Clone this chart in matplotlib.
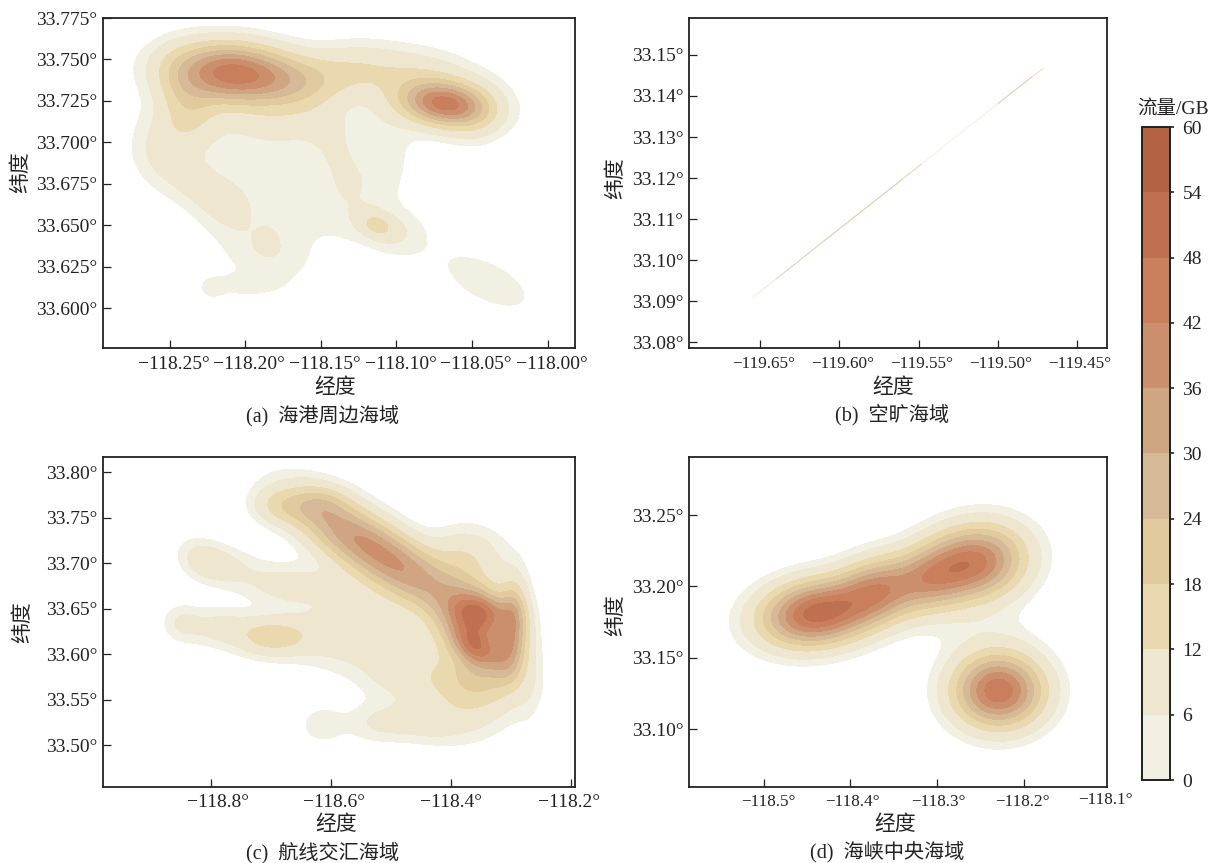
import numpy as np
import matplotlib
matplotlib.use("Agg")
import matplotlib.pyplot as plt
from matplotlib.colors import ListedColormap, BoundaryNorm
from matplotlib.cm import ScalarMappable
from matplotlib.transforms import Affine2D

plt.rcParams['font.family'] = ['Liberation Serif', 'Noto Sans CJK SC']
plt.rcParams['axes.unicode_minus'] = True
TEXT = '#222222'

flow_levels = [0, 6, 12, 18, 24, 30, 36, 42, 48, 54, 60]
band_colors = ['#F1F0E2', '#EEE6CF', '#EAD8AE', '#E1CA9E', '#D6B996',
               '#CFA681', '#CC8F6D', '#C97F5C', '#BF7050', '#B36244']
OUTER = 3.0

# hotspots: lon, lat, spread lon, spread lat, tilt, flow
a_spots = [
    (-118.208, 33.743, .028, .012, -.15, 30),
    (-118.212, 33.739, .027, .0125, 0, 15),
    (-118.165, 33.735, .022, .011, 0, 13),
    (-118.236, 33.718, .012, .013, 0, 9),
    (-118.245, 33.735, .010, .015, 0, 3),
    (-118.125, 33.745, .022, .011, 0, 9),
    (-118.085, 33.745, .020, .010, 0, 3),
    (-118.068, 33.723, .018, .0085, -.2, 32),
    (-118.072, 33.727, .028, .014, -.2, 13),
    (-118.048, 33.716, .012, .012, 0, 4),
    (-118.140, 33.695, .012, .015, -.4, 4.5),
    (-118.170, 33.712, .030, .010, 0, 6),
    (-118.255, 33.700, .014, .016, 0, 5.5),
    (-118.220, 33.695, .030, .020, 0, 3),
    (-118.230, 33.672, .020, .014, -.6, 5.5),
    (-118.172, 33.688, .016, .012, 0, 1.5),
    (-118.115, 33.700, .012, .014, 0, 1.5),
    (-118.185, 33.665, .028, .020, 0, 3.4),
    (-118.140, 33.662, .024, .018, 0, 2.6),
    (-118.103, 33.690, .012, .018, 0, 2.8),
    (-118.175, 33.630, .014, .012, 0, 4),
    (-118.200, 33.635, .012, .012, 0, 3),
    (-118.215, 33.655, .012, .012, 0, 2),
    (-118.200, 33.614, .016, .005, 0, 4.2),
    (-118.222, 33.612, .006, .005, 0, 3.5),
    (-118.185, 33.641, .005, .006, 0, 2.5),
    (-118.113, 33.650, .008, .0055, -.3, 9),
    (-118.110, 33.648, .020, .012, -.3, 3.5),
    (-118.095, 33.645, .012, .010, 0, 2.5),
    (-118.125, 33.675, .015, .012, 0, 2),
    (-118.040, 33.616, .024, .014, -.6, 5),
]
c_spots = [
    (-118.345, 33.647, .033, .014, -.1, 17),
    (-118.358, 33.607, .026, .015, -.5, 17),
    (-118.360, 33.628, .040, .035, -.2, 33),
    (-118.295, 33.640, .016, .028, 0, 20),
    (-118.305, 33.600, .018, .022, 0, 16),
    (-118.360, 33.570, .050, .018, 0, 8),
    (-118.600, 33.742, .060, .031, -.6, 17),
    (-118.540, 33.722, .060, .031, -.6, 16),
    (-118.480, 33.695, .060, .031, -.6, 16),
    (-118.430, 33.670, .060, .031, -.6, 12),
    (-118.373, 33.710, .042, .022, 0, 9),
    (-118.300, 33.687, .025, .025, 0, 1.5),
    (-118.690, 33.762, .030, .014, -.1, 9),
    (-118.620, 33.765, .035, .014, 0, 8),
    (-118.615, 33.522, .025, .014, 0, 5),
    (-118.520, 33.524, .040, .015, 0, 6),
    (-118.440, 33.525, .040, .015, 0, 6),
    (-118.355, 33.535, .050, .025, .3, 5.5),
    (-118.400, 33.560, .050, .025, 0, 5),
    (-118.500, 33.585, .035, .025, 0, 6),
    (-118.450, 33.590, .030, .030, 0, 5),
    (-118.790, 33.698, .035, .016, -.3, 8),
    (-118.820, 33.705, .025, .016, -.2, 4),
    (-118.720, 33.685, .040, .020, -.4, 3),
    (-118.700, 33.619, .042, .015, 0, 14),
    (-118.850, 33.635, .022, .014, 0, 5),
    (-118.790, 33.630, .040, .015, 0, 7),
    (-118.620, 33.620, .050, .022, 0, 5),
    (-118.655, 33.676, .050, .016, 0, 7),
    (-118.550, 33.630, .050, .035, 0, 8),
    (-118.270, 33.590, .018, .045, 0, 4),
]
d_spots = [
    (-118.440, 33.181, .042, .0155, .15, 50),
    (-118.370, 33.197, .030, .0155, .15, 32),
    (-118.310, 33.205, .030, .0155, .15, 26),
    (-118.255, 33.217, .038, .0175, .1, 42),
    (-118.229, 33.127, .035, .0175, 0, 46.5),
    (-118.250, 33.170, .045, .014, 0, 2.5),
]
b_track_lon = [-119.654, -119.640, -119.610, -119.560, -119.548, -119.500, -119.478, -119.471]
b_track_lat = [33.0911, 33.0954, 33.1046, 33.1198, 33.1235, 33.1381, 33.1448, 33.1468]
b_track_col = ['#F3EBD8', '#E8D2AE', '#E6C9A0', '#EAD8AE', '#F7F0E3', '#E6CDA6', '#EFE0C6', '#F7F0E3']

W, H = 1218, 863
panels = [
    dict(box=(103, 575, 18, 348), xlim=(-118.294, -117.982), ylim=(33.576, 33.775),
         xt=[-118.25, -118.20, -118.15, -118.10, -118.05, -118.00],
         xl=['−118.25°', '−118.20°', '−118.15°', '−118.10°', '−118.05°', '−118.00°'],
         yt=[33.60, 33.625, 33.65, 33.675, 33.70, 33.725, 33.75, 33.775],
         yl=['33.600°', '33.625°', '33.650°', '33.675°', '33.700°', '33.725°', '33.750°', '33.775°'],
         fs=14, dx=[4, 4, 4, 4, 4, 4], pad=6, spots=a_spots, xlab=(335, 388), ylab=(21, 172), cap=(323, 416, '(a)  海港周边海域')),
    dict(box=(689, 1107, 18, 348), xlim=(-119.695, -119.431), ylim=(33.0786, 33.159),
         xt=[-119.65, -119.60, -119.55, -119.50, -119.45],
         xl=['−119.65°', '−119.60°', '−119.55°', '−119.50°', '−119.45°'],
         yt=[33.08, 33.09, 33.10, 33.11, 33.12, 33.13, 33.14, 33.15],
         yl=['33.08°', '33.09°', '33.10°', '33.11°', '33.12°', '33.13°', '33.14°', '33.15°'],
         fs=12.3, dx=[3, 3, 3, 3, 3], pad=6, spots=None, xlab=(893, 388), ylab=(616, 178), cap=(892, 416, '(b)  空旷海域')),
    dict(box=(103, 575, 457, 787), xlim=(-118.98, -118.193), ylim=(33.454, 33.8165),
         xt=[-118.8, -118.6, -118.4, -118.2],
         xl=['−118.8°', '−118.6°', '−118.4°', '−118.2°'],
         yt=[33.50, 33.55, 33.60, 33.65, 33.70, 33.75, 33.80],
         yl=['33.50°', '33.55°', '33.60°', '33.65°', '33.70°', '33.75°', '33.80°'],
         fs=14, dx=[7, 3, 0, -2], pad=5, spots=c_spots, xlab=(336, 825), ylab=(23, 622), cap=(323, 853, '(c)  航线交汇海域')),
    dict(box=(689, 1107, 457, 787), xlim=(-118.586, -118.104), ylim=(33.0596, 33.2906),
         xt=[-118.5, -118.4, -118.3, -118.2],
         xl=['−118.5°', '−118.4°', '−118.3°', '−118.2°'],
         yt=[33.10, 33.15, 33.20, 33.25],
         yl=['33.10°', '33.15°', '33.20°', '33.25°'],
         fs=12.3, dx=[5, 2, 1, -1], pad=5, spots=d_spots, xlab=(895, 825), ylab=(616, 615), cap=(887, 853, '(d)  海峡中央海域')),
]

def flow_field(spots, X, Y):
    Z = np.zeros_like(X)
    for lon, lat, sx, sy, r, h in spots:
        u, v = (X - lon) / sx, (Y - lat) / sy
        Z += h * np.exp(-0.5 * (u * u + v * v - 2 * r * u * v) / (1 - r * r))
    return Z

fig = plt.figure(figsize=(W / 100, H / 100), dpi=100)
def px_rect(l, r, t, b):
    return [l / W, 1 - b / H, (r - l) / W, (b - t) / H]
def ftext(x, y, s, **kw):
    fig.text(x / W, 1 - y / H, s, ha='center', va='center', color=TEXT, **kw)

for p in panels:
    ax = fig.add_axes(px_rect(*p['box']))
    ax.set_xlim(*p['xlim']); ax.set_ylim(*p['ylim'])
    if p['spots'] is not None:
        xs = np.linspace(*p['xlim'], 500); ys = np.linspace(*p['ylim'], 500)
        X, Y = np.meshgrid(xs, ys)
        Z = flow_field(p['spots'], X, Y)
        ax.contourf(X, Y, Z, levels=[OUTER] + flow_levels[1:], colors=band_colors, extend='neither')
    else:
        for i in range(len(b_track_lon) - 1):
            ax.plot(b_track_lon[i:i + 2], b_track_lat[i:i + 2], color=b_track_col[i], lw=0.8,
                    solid_capstyle='butt')
    ax.set_xticks(p['xt']); ax.set_xticklabels(p['xl'], fontsize=p['fs'], color=TEXT)
    ax.set_yticks(p['yt']); ax.set_yticklabels(p['yl'], fontsize=14, color=TEXT)
    ax.tick_params(axis='both', direction='in', length=5.5, width=0.9, color='#222222')
    ax.tick_params(axis='x', pad=p['pad'])
    ax.tick_params(axis='y', pad=4)
    for lab, dx in zip(ax.get_xticklabels(), p['dx']):
        lab.set_transform(lab.get_transform() + Affine2D().translate(dx, 0))
    for s in ax.spines.values():
        s.set_linewidth(1.3); s.set_color('#222222')
    ftext(*p['xlab'], '经度', fontsize=15)
    ftext(*p['ylab'], '纬度', fontsize=15, rotation=90)
    ftext(p['cap'][0], p['cap'][1], p['cap'][2], fontsize=14.5)

# extra end label for panel (d): its tick sits past the frame
ftext(1105, 800, '−118.1°', fontsize=12.3)

cax = fig.add_axes(px_rect(1142, 1170, 127, 780))
sm = ScalarMappable(norm=BoundaryNorm(flow_levels, len(band_colors)), cmap=ListedColormap(band_colors))
cb = fig.colorbar(sm, cax=cax, ticks=flow_levels, spacing='proportional')
cb.ax.set_yticklabels([str(v) for v in flow_levels], fontsize=14, color=TEXT)
cb.ax.tick_params(length=3, width=1.2, direction='out', color='#222222', pad=6)
cb.ax.minorticks_off()
cb.outline.set_linewidth(1.4); cb.outline.set_edgecolor('#1c241e')
ftext(1173, 109, '流量/GB', fontsize=14)

fig.savefig('out.png', dpi=100)
